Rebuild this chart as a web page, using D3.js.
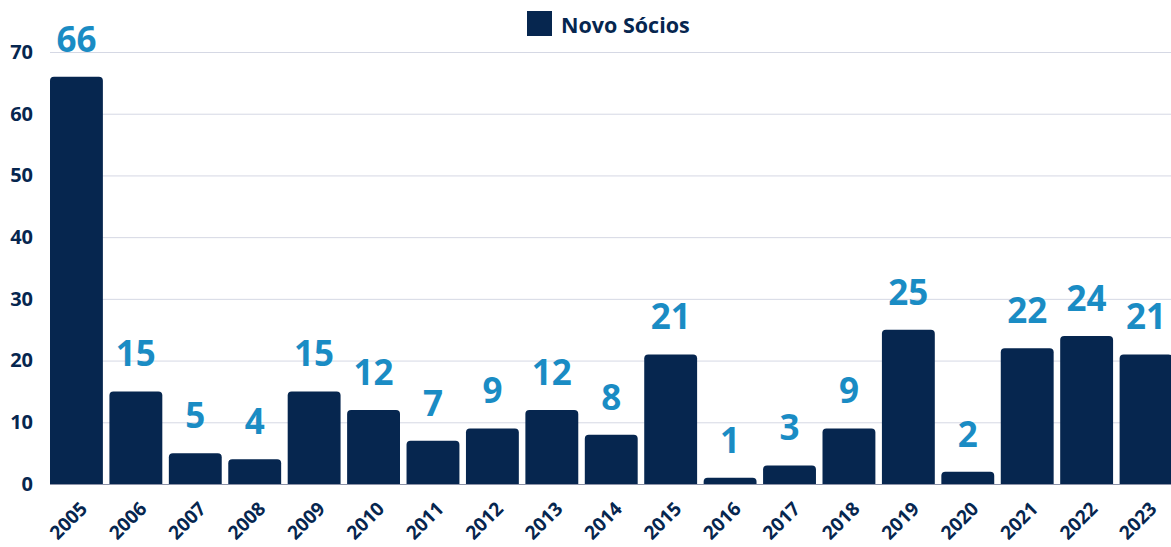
<!DOCTYPE html>
<html>
<head>
<meta charset="utf-8">
<script src="https://cdn.jsdelivr.net/npm/d3@7"></script>
<style>
  body { margin: 0; background: #fff; }
  svg { display: block; font-family: "Open Sans", sans-serif; }
</style>
</head>
<body>
<div id="chart"></div>
<script>
// chart data
var years = ["2005","2006","2007","2008","2009","2010","2011","2012","2013","2014",
             "2015","2016","2017","2018","2019","2020","2021","2022","2023"];
var novoSocios = [66, 15, 5, 4, 15, 12, 7, 9, 12, 8, 21, 1, 3, 9, 25, 2, 22, 24, 21];
var yTicks = [0, 10, 20, 30, 40, 50, 60, 70];
var seriesName = "Novo Sócios";

var width = 1171, height = 547;
var navy = "#06264f", blue = "#1a8cc4";

var svg = d3.select("#chart").append("svg")
    .attr("width", width)
    .attr("height", height);

var x = d3.scaleBand()
    .domain(years)
    .range([50, 1172.5])
    .paddingInner(0.11)
    .paddingOuter(0);

var y = d3.scaleLinear()
    .domain([0, 70])
    .range([484, 52]);

// grid lines
svg.append("g").selectAll("line")
  .data(yTicks)
  .enter().append("line")
    .attr("x1", 50).attr("x2", width)
    .attr("y1", function(d) { return y(d) + 0.5; })
    .attr("y2", function(d) { return y(d) + 0.5; })
    .attr("stroke", function(d) { return d == 0 ? "#8d93a8" : "#d5d8e4"; })
    .attr("stroke-width", 1);

// y axis labels
var yAxis = d3.axisLeft(y).tickValues(yTicks).tickSize(0).tickPadding(0);
var gy = svg.append("g").attr("transform", "translate(33,0)").call(yAxis);
gy.select(".domain").remove();
gy.selectAll("text")
    .attr("fill", navy)
    .attr("font-size", "20px")
    .attr("font-weight", "bold")
    .attr("font-family", "Open Sans");

// bars with rounded tops
function barPath(d, i) {
  var x0 = x(years[i]), w = x.bandwidth(), y0 = y(0), y1 = y(d);
  var r = Math.min(4, (y0 - y1));
  return "M" + x0 + "," + y0 +
         "V" + (y1 + r) +
         "Q" + x0 + "," + y1 + " " + (x0 + r) + "," + y1 +
         "H" + (x0 + w - r) +
         "Q" + (x0 + w) + "," + y1 + " " + (x0 + w) + "," + (y1 + r) +
         "V" + y0 + "Z";
}
svg.append("g").selectAll("path")
  .data(novoSocios)
  .enter().append("path")
    .attr("d", barPath)
    .attr("fill", navy);

// value labels
svg.append("g").selectAll("text")
  .data(novoSocios)
  .enter().append("text")
    .attr("x", function(d, i) { return x(years[i]) + x.bandwidth() / 2; })
    .attr("y", function(d) { return y(d) - 25; })
    .attr("text-anchor", "middle")
    .attr("fill", blue)
    .attr("font-size", "35px")
    .attr("font-weight", "bold")
    .text(function(d) { return d; });

// x axis labels
var xAxis = d3.axisBottom(x).tickSize(0).tickPadding(0);
var gx = svg.append("g").attr("transform", "translate(0,484)").call(xAxis);
gx.select(".domain").remove();
gx.selectAll("text")
    .attr("fill", navy)
    .attr("font-size", "19px")
    .attr("font-weight", "bold")
    .attr("font-family", "Open Sans")
    .attr("text-anchor", "end")
    .attr("dy", null)
    .attr("transform", "translate(12,26) rotate(-45)");

// legend
var legend = svg.append("g");
legend.append("rect")
    .attr("x", 527).attr("y", 11)
    .attr("width", 25).attr("height", 25)
    .attr("fill", navy);
legend.append("text")
    .attr("x", 561).attr("y", 33)
    .attr("fill", navy)
    .attr("font-size", "21.5px")
    .attr("font-weight", "bold")
    .text(seriesName);
</script>
</body>
</html>
